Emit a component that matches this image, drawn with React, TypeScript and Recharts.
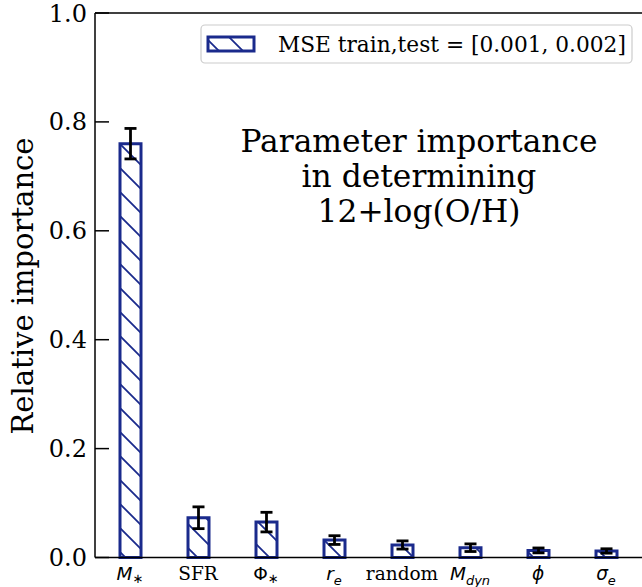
import React from 'react';
import {
  BarChart,
  Bar,
  XAxis,
  YAxis,
  ErrorBar,
  ReferenceLine,
  Customized,
} from 'recharts';

const CATEGORIES = ['M*', 'SFR', 'Phi*', 're', 'random', 'Mdyn', 'phi', 'sigma_e'];
const IMPORTANCE = [0.76, 0.073, 0.065, 0.032, 0.023, 0.018, 0.013, 0.012];
const IMPORTANCE_ERR = [0.028, 0.02, 0.018, 0.008, 0.0075, 0.007, 0.0045, 0.004];
const Y_TICKS = [0, 0.2, 0.4, 0.6, 0.8, 1.0];
const LEGEND_LABEL = 'MSE train,test = [0.001, 0.002]';
const NOTE_LINES = ['Parameter importance', 'in determining', '12+log(O/H)'];

const NAVY = '#1a2a8c';
const SERIF = '"DejaVu Serif", serif';
const MATH = '"DejaVu Sans", sans-serif';

type Part = { t: string; math?: boolean; italic?: boolean; sub?: boolean };

// how each tick label is typeset (mathtext-like)
const TICK_PARTS: Record<string, Part[]> = {
  'M*': [{ t: 'M', math: true, italic: true }, { t: '∗', math: true, sub: true }],
  SFR: [{ t: 'SFR' }],
  'Phi*': [{ t: 'Φ', math: true }, { t: '∗', math: true, sub: true }],
  re: [{ t: 'r', math: true, italic: true }, { t: 'e', math: true, italic: true, sub: true }],
  random: [{ t: 'random' }],
  Mdyn: [{ t: 'M', math: true, italic: true }, { t: 'dyn', math: true, italic: true, sub: true }],
  phi: [{ t: 'ϕ', math: true, italic: true }],
  sigma_e: [{ t: 'σ', math: true, italic: true }, { t: 'e', math: true, italic: true, sub: true }],
};

const data = CATEGORIES.map((name, i) => ({
  name,
  value: IMPORTANCE[i],
  err: IMPORTANCE_ERR[i],
}));

function MathTick(props: any) {
  const { x, y, payload } = props;
  const parts = TICK_PARTS[payload.value] || [{ t: String(payload.value) }];
  let prevSub = false;
  return (
    <text x={x} y={y + 22.5} textAnchor="middle" fontSize={18.5} fill="#000" fontFamily={SERIF}>
      {parts.map((p, i) => {
        const dy = p.sub && !prevSub ? (p.t === '∗' ? 2.5 : 4.5) : 0;
        prevSub = !!p.sub;
        return (
          <tspan
            key={i}
            dy={dy}
            fontFamily={p.math ? MATH : SERIF}
            fontStyle={p.italic ? 'italic' : 'normal'}
            fontSize={p.sub ? 13 : 18.5}
          >
            {p.t}
          </tspan>
        );
      })}
    </text>
  );
}

function Overlay() {
  return (
    <g>
      <text
        x={23}
        y={286}
        transform="rotate(-90 23 286)"
        textAnchor="middle"
        dominantBaseline="central"
        fontFamily={SERIF}
        fontSize={29}
        fill="#000"
      >
        Relative importance
      </text>
      {NOTE_LINES.map((line, i) => (
        <text
          key={line}
          x={419}
          y={152 + i * 35}
          textAnchor="middle"
          fontFamily={SERIF}
          fontSize={31.3}
          fill="#000"
        >
          {line}
        </text>
      ))}
      <rect x={201} y={25} width={431} height={38} rx={4} fill="#fff" fillOpacity={0.8} stroke="#cccccc" strokeWidth={1.2} />
      <rect x={208} y={37} width={46} height={14} fill="url(#hatch)" stroke={NAVY} strokeWidth={3} />
      <text x={278} y={51.5} fontFamily={SERIF} fontSize={21.7} fill="#000">
        {LEGEND_LABEL}
      </text>
    </g>
  );
}

export default function App() {
  return (
    <div
      style={{
        position: 'absolute',
        left: 0,
        top: 0,
        width: 642,
        height: 587,
        overflow: 'hidden',
        background: '#fff',
      }}
    >
      <BarChart width={646} height={587} data={data} margin={{ top: 13, right: 3, bottom: 0, left: 0 }}>
        <defs>
          <pattern id="hatch" patternUnits="userSpaceOnUse" width={24} height={24}>
            <rect width={24} height={24} fill="#fff" />
            <path d="M0,0 L24,24 M-6,18 L6,30 M18,-6 L30,6" stroke={NAVY} strokeWidth={1.8} />
          </pattern>
        </defs>
        <XAxis
          dataKey="name"
          height={29.5}
          interval={0}
          padding={{ left: 1, right: 3 }}
          axisLine={{ stroke: '#000', strokeWidth: 1.5 }}
          tickLine={false}
          tickSize={0}
          tickMargin={0}
          tick={<MathTick />}
        />
        <YAxis
          width={95}
          domain={[0, 1]}
          ticks={Y_TICKS}
          tickFormatter={(v: number) => v.toFixed(1)}
          tickSize={-14}
          tickMargin={22}
          axisLine={{ stroke: '#000', strokeWidth: 1.5 }}
          tickLine={{ stroke: '#000', strokeWidth: 1.5 }}
          tick={{ fontFamily: SERIF, fontSize: 24, fill: '#000' }}
        />
        <YAxis
          yAxisId="r"
          orientation="right"
          width={0}
          domain={[0, 1]}
          ticks={Y_TICKS}
          tickSize={-14}
          tick={false}
          axisLine={{ stroke: '#000', strokeWidth: 1.5 }}
          tickLine={{ stroke: '#000', strokeWidth: 1.5 }}
        />
        <ReferenceLine y={1} stroke="#000" strokeWidth={1.5} />
        <Bar
          dataKey="value"
          barSize={21}
          fill="url(#hatch)"
          stroke={NAVY}
          strokeWidth={3}
          isAnimationActive={false}
        >
          <ErrorBar dataKey="err" width={6} stroke="#000" strokeWidth={2.8} />
        </Bar>
        <Customized component={<Overlay />} />
      </BarChart>
    </div>
  );
}
